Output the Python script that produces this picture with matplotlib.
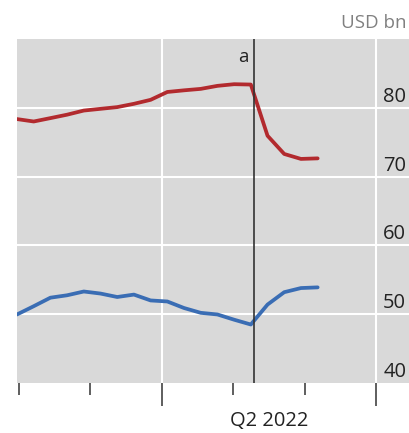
import matplotlib
matplotlib.use("Agg")
import matplotlib.pyplot as plt

plt.rcParams['font.family'] = ['Open Sans', 'DejaVu Sans']

# weekly observations (week index)
weeks = list(range(19))
red_values = [78.36, 78.01, 78.5, 79.0, 79.6, 79.85, 80.1, 80.58, 81.16, 82.3,
              82.54, 82.75, 83.19, 83.43, 83.38, 75.94, 73.29, 72.57, 72.65]
blue_values = [49.96, 51.16, 52.4, 52.75, 53.3, 53.0, 52.5, 52.85, 52.0, 51.85,
               50.9, 50.2, 49.96, 49.2, 48.5, 51.4, 53.2, 53.8, 53.9]

y_ticks = [40, 50, 60, 70, 80]
y_tick_labels = ["40", "50", "60", "70", "80"]
month_ticks = [0.12, 4.37, 12.93, 17.25]
quarter_ticks = [8.68, 21.5]
period_label = "Q2 2022"
event_x = 14.2
event_label = "a"
unit_label = "USD bn"

fig = plt.figure(figsize=(4.09, 4.33), dpi=100)
ax = fig.add_axes([17/409, 50/433, 392/409, 344/433])
ax.set_facecolor('#d9d9d9')

ax.set_xlim(0, 23.47)
ax.set_ylim(40, 90)

# gridlines
for v in y_ticks[1:]:
    ax.axhline(v, color='white', lw=1.5, zorder=1)
for q in quarter_ticks:
    ax.axvline(q, color='white', lw=1.5, zorder=1)

ax.plot(weeks, red_values, color='#b22a2e', lw=2.7, zorder=3, solid_capstyle='round')
ax.plot(weeks, blue_values, color='#3a6db4', lw=2.7, zorder=3, solid_capstyle='round')

ax.axvline(event_x, color='#333333', lw=1.2, zorder=4)
ax.annotate(event_label, xy=(event_x, 1), xycoords=('data', 'axes fraction'),
            xytext=(-4, -13), textcoords='offset points', ha='right', va='center',
            fontsize=13.5, color='#222222')

for v, lab in zip(y_ticks, y_tick_labels):
    ax.annotate(lab, xy=(1, v), xycoords=('axes fraction', 'data'),
                xytext=(-2, 4.3), textcoords='offset points', ha='right', va='baseline',
                fontsize=14.5, color='#222222')

ax.annotate(unit_label, xy=(1, 1), xycoords='axes fraction', xytext=(-2, 5),
            textcoords='offset points', ha='right', va='bottom', fontsize=13.5, color='#808080')

ax.set_xticks(quarter_ticks)
ax.set_xticks(month_ticks, minor=True)
ax.set_xticklabels([])
ax.tick_params(axis='x', which='major', direction='out', length=16.5, width=1.1, color='#333333')
ax.tick_params(axis='x', which='minor', direction='out', length=8.6, width=1.1, color='#333333')
ax.set_yticks([])

ax.annotate(period_label, xy=(sum(quarter_ticks)/2, 0), xycoords=('data', 'axes fraction'),
            xytext=(0, -27.5), textcoords='offset points', ha='center', va='center',
            fontsize=14.5, color='#222222')

for s in ax.spines.values():
    s.set_visible(False)

fig.savefig('out.png', dpi=100)
